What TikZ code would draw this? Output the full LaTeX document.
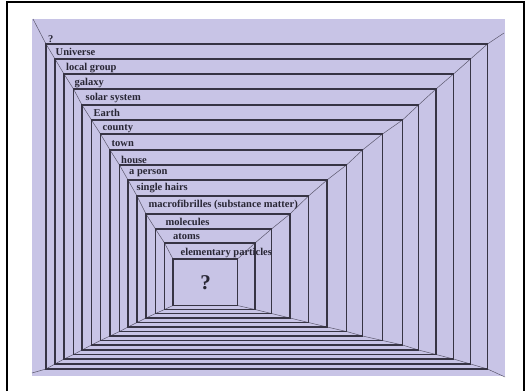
\documentclass[tikz,border=0pt]{standalone}
\usepackage{fontspec}
\setmainfont{Liberation Serif}
\definecolor{lav}{RGB}{200,196,230}
\definecolor{ink}{RGB}{55,52,68}
\definecolor{txt}{RGB}{40,38,52}
\begin{document}
\begin{tikzpicture}[x=1pt,y=-1pt,
  box/.style={draw=ink,line width=1.1pt},
  persp/.style={draw=ink!75!lav,line width=0.5pt},
  lbl/.style={font=\bfseries\fontsize{10.5}{12}\selectfont,text=txt,inner sep=0pt,anchor=base west},
  bigq/.style={font=\bfseries\fontsize{21}{24}\selectfont,text=txt,inner sep=0pt}]
\useasboundingbox (0,0) rectangle (527,391);
% outer frame
\draw[line width=1.6pt,black] (7,391) -- (7,2) -- (524,2) -- (524,391);
% lavender field
\fill[lav] (32,19) rectangle (505,376);
\coordinate (c-tl) at (33,19);
\coordinate (c-tr) at (504,33);
\coordinate (c-br) at (505,377);
\coordinate (c-bl) at (32,373);
% rectangle corners
\foreach \i/\l/\t/\r/\b in {
  1/46/44/487.5/369, 2/55/59/470.5/364, 3/64/74/453.5/359,
  4/73.5/89/436/354.5, 5/82/105/418.5/350, 6/91.5/120/402.5/345,
  7/100.5/134/382.5/340.5, 8/110/150/362.5/336, 9/119.5/165/346.5/331.5,
  10/128/180/327/327, 11/137/196/308.5/322.5, 12/146/214/290/318,
  13/155.5/229/271.5/313.5, 14/164.5/243/255/309.5, 15/173/259/237.5/305.5}{
  \coordinate (r\i-tl) at (\l,\t);
  \coordinate (r\i-tr) at (\r,\t);
  \coordinate (r\i-br) at (\r,\b);
  \coordinate (r\i-bl) at (\l,\b);
}
% perspective diagonals
\foreach \k in {tl,tr,br,bl}{
  \draw[persp] (c-\k) -- (r1-\k);
  \foreach \i [evaluate=\i as \j using int(\i+1)] in {1,...,14}{
    \draw[persp] (r\i-\k) -- (r\j-\k);
  }
}
% rectangles
\foreach \i in {1,...,15}{
  \draw[box] (r\i-tl) rectangle (r\i-br);
}
% labels
\node[lbl] (q0) at (48,42) {?};
\node[lbl] (l1) at (55.5,55.5) {Universe};
\node[lbl] (l2) at (66,70) {local group};
\node[lbl] (l3) at (74.5,85) {galaxy};
\node[lbl] (l4) at (85.5,100.5) {solar system};
\node[lbl] (l5) at (93.5,116.5) {Earth};
\node[lbl] (l6) at (102.5,130) {county};
\node[lbl] (l7) at (111.5,146) {town};
\node[lbl] (l8) at (121,163.5) {house};
\node[lbl] (l9) at (129,174) {a person};
\node[lbl] (l10) at (136.5,190) {single hairs};
\node[lbl] (l11) at (148.5,207) {macrofibrilles (substance matter)};
\node[lbl] (l12) at (165.5,225) {molecules};
\node[lbl] (l13) at (173,239) {atoms};
\node[lbl] (l14) at (180.5,255) {elementary particles};
\node[bigq] (q1) at (205.5,283) {?};
\end{tikzpicture}
\end{document}
